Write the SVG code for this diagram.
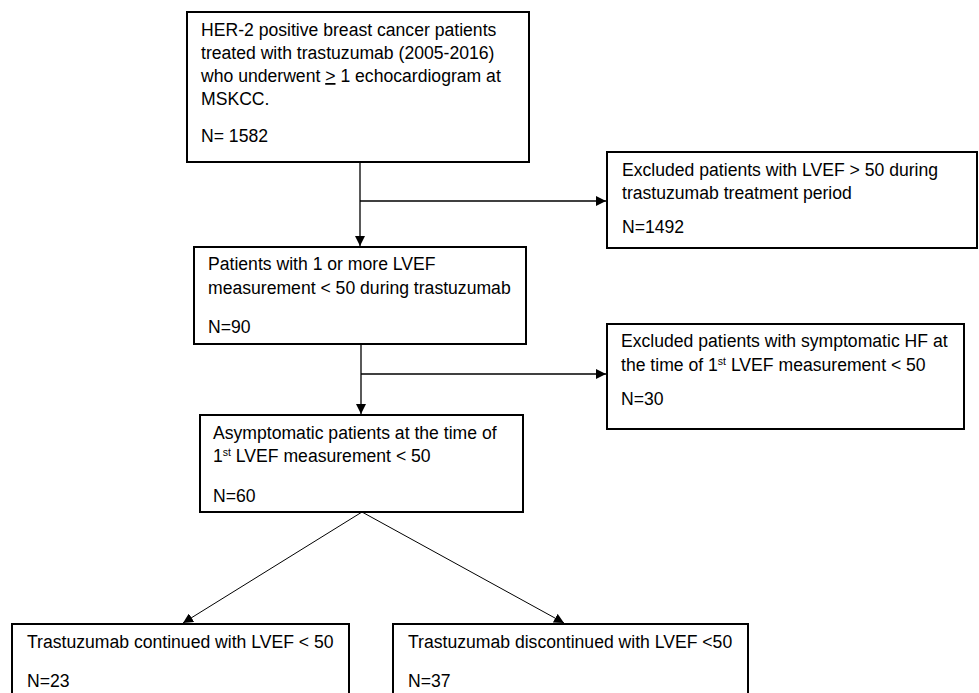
<svg xmlns="http://www.w3.org/2000/svg" width="979" height="693" viewBox="0 0 979 693">
<defs>
<style>
.box{fill:#fff;stroke:#000;stroke-width:2}
.t{font-family:"Liberation Sans",Arial,sans-serif;font-size:17.6px;fill:#000}
.sup{font-size:10.5px}
.c{fill:none;stroke:#000;stroke-width:1.3}
.d{fill:none;stroke:#000;stroke-width:1}
</style>
<marker id="ah" viewBox="0 0 10 10" refX="10" refY="5" markerWidth="10" markerHeight="10" markerUnits="userSpaceOnUse" orient="auto">
<path d="M0,0 L10,5 L0,10 z" fill="#000"/>
</marker>
</defs>
<rect width="979" height="693" fill="#fff"/>
<g id="connectors">
<line class="c" x1="360" y1="162" x2="360" y2="246" marker-end="url(#ah)"/>
<line class="c" x1="360" y1="201" x2="606" y2="201" marker-end="url(#ah)"/>
<line class="c" x1="361" y1="344" x2="361" y2="414" marker-end="url(#ah)"/>
<line class="c" x1="361" y1="374" x2="606" y2="374" marker-end="url(#ah)"/>
<line class="d" x1="362" y1="512" x2="183" y2="623" marker-end="url(#ah)"/>
<line class="d" x1="362" y1="512" x2="564" y2="623" marker-end="url(#ah)"/>
</g>
<g id="n1">
<rect class="box" x="187" y="12" width="342" height="150"/>
<text class="t" x="201" y="36">HER-2 positive breast cancer patients</text>
<text class="t" x="201" y="59">treated with trastuzumab (2005-2016)</text>
<text class="t" x="201" y="82">who underwent <tspan text-decoration="underline">&gt;</tspan> 1 echocardiogram at</text>
<text class="t" x="201" y="105">MSKCC.</text>
<text class="t" x="201" y="142">N= 1582</text>
</g>
<g id="n2">
<rect class="box" x="194" y="247" width="332" height="97"/>
<text class="t" x="208" y="270">Patients with 1 or more LVEF</text>
<text class="t" x="208" y="294">measurement &lt; 50 during trastuzumab</text>
<text class="t" x="208" y="333">N=90</text>
</g>
<g id="n3">
<rect class="box" x="607" y="152" width="370" height="96"/>
<text class="t" x="622" y="176">Excluded patients with LVEF &gt; 50 during</text>
<text class="t" x="622" y="199">trastuzumab treatment period</text>
<text class="t" x="622" y="233">N=1492</text>
</g>
<g id="n4">
<rect class="box" x="607" y="324" width="357" height="105"/>
<text class="t" x="621" y="347">Excluded patients with symptomatic HF at</text>
<text class="t" x="621" y="371">the time of 1<tspan class="sup" dy="-6">st</tspan><tspan dy="6"> LVEF measurement &lt; 50</tspan></text>
<text class="t" x="621" y="405">N=30</text>
</g>
<g id="n5">
<rect class="box" x="200" y="415" width="323" height="97"/>
<text class="t" x="213" y="439">Asymptomatic patients at the time of</text>
<text class="t" x="213" y="462">1<tspan class="sup" dy="-6">st</tspan><tspan dy="6"> LVEF measurement &lt; 50</tspan></text>
<text class="t" x="213" y="502">N=60</text>
</g>
<g id="n6">
<rect class="box" x="12" y="624" width="337" height="80"/>
<text class="t" x="27" y="648">Trastuzumab continued with LVEF &lt; 50</text>
<text class="t" x="27" y="687">N=23</text>
</g>
<g id="n7">
<rect class="box" x="393" y="624" width="355" height="80"/>
<text class="t" x="408" y="648">Trastuzumab discontinued with LVEF &lt;50</text>
<text class="t" x="408" y="687">N=37</text>
</g>
</svg>
